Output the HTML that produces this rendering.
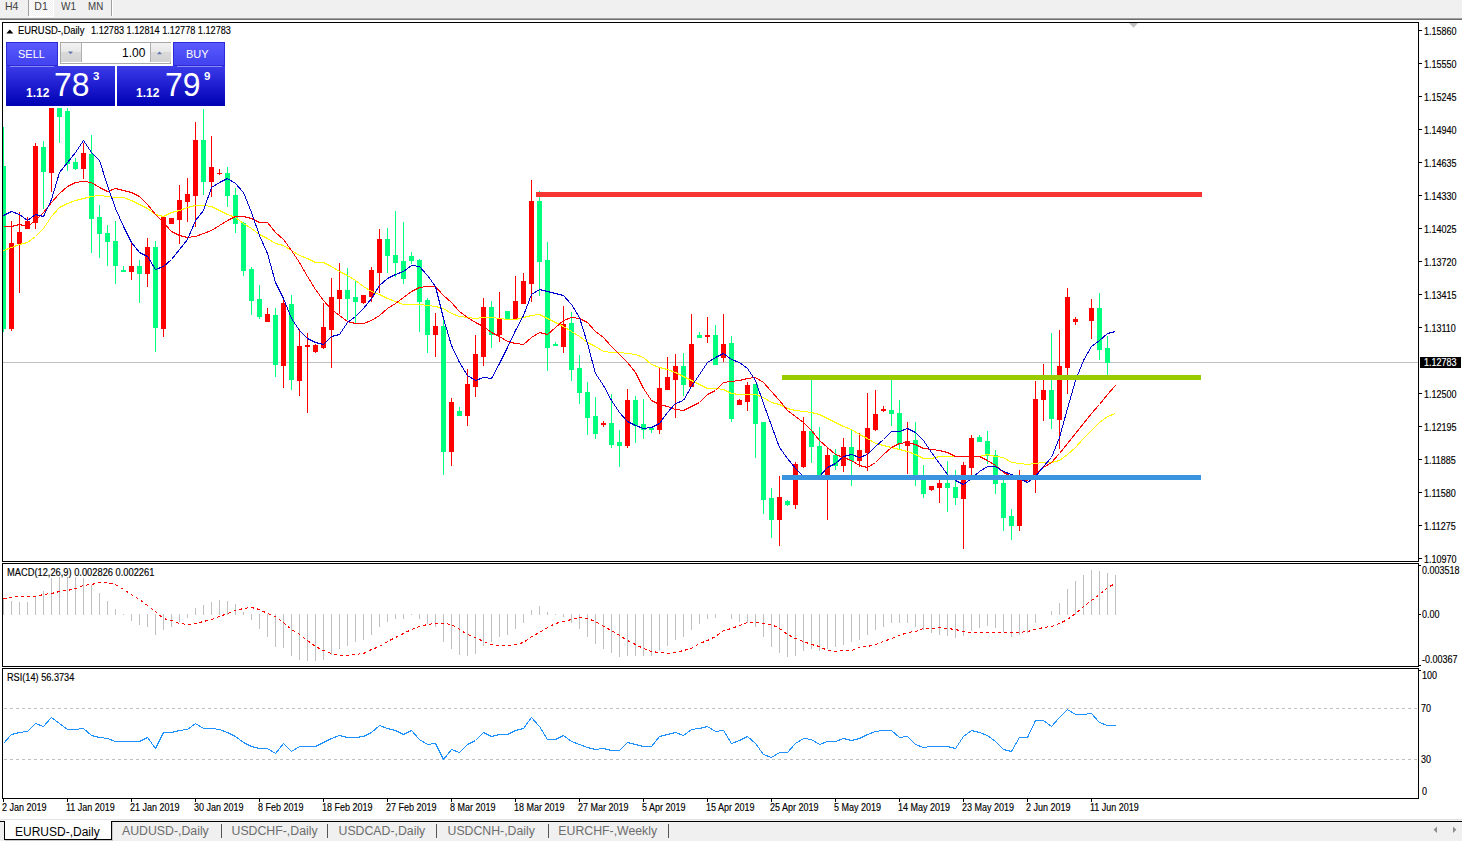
<!DOCTYPE html>
<html><head><meta charset="utf-8"><style>
html,body{margin:0;padding:0;}
body{width:1462px;height:842px;position:relative;overflow:hidden;background:#fff;font-family:"Liberation Sans",sans-serif;}
.t{position:absolute;white-space:pre;line-height:1;font-family:"Liberation Sans",sans-serif;}
.a{position:absolute;}
</style></head><body>
<svg width="1462" height="842" style="position:absolute;left:0;top:0" shape-rendering="crispEdges">
<defs>
<clipPath id="cm"><rect x="3" y="23" width="1415" height="538"/></clipPath>
<clipPath id="cmacd"><rect x="3" y="564" width="1415" height="102"/></clipPath>
<clipPath id="crsi"><rect x="3" y="669" width="1415" height="129"/></clipPath>
</defs>
<g clip-path="url(#cm)"><rect x="3" y="362" width="1415" height="1" fill="#c0c0c0"/><rect x="3" y="127" width="1" height="205" fill="#00ff7f"/><rect x="1" y="166" width="5" height="163" fill="#00ff7f"/><rect x="11" y="221" width="1" height="110" fill="#ff0000"/><rect x="9" y="243" width="5" height="86" fill="#ff0000"/><rect x="19" y="212" width="1" height="81" fill="#ff0000"/><rect x="17" y="232" width="5" height="12" fill="#ff0000"/><rect x="27" y="217" width="1" height="12" fill="#ff0000"/><rect x="25" y="221" width="5" height="8" fill="#ff0000"/><rect x="35" y="143" width="1" height="86" fill="#ff0000"/><rect x="33" y="146" width="5" height="77" fill="#ff0000"/><rect x="43" y="141" width="1" height="68" fill="#00ff7f"/><rect x="41" y="147" width="5" height="25" fill="#00ff7f"/><rect x="51" y="108" width="1" height="84" fill="#ff0000"/><rect x="49" y="108" width="5" height="65" fill="#ff0000"/><rect x="59" y="108" width="1" height="35" fill="#00ff7f"/><rect x="57" y="108" width="5" height="9" fill="#00ff7f"/><rect x="67" y="108" width="1" height="63" fill="#00ff7f"/><rect x="65" y="111" width="5" height="53" fill="#00ff7f"/><rect x="75" y="158" width="1" height="12" fill="#00ff7f"/><rect x="73" y="162" width="5" height="7" fill="#00ff7f"/><rect x="83" y="143" width="1" height="36" fill="#ff0000"/><rect x="81" y="153" width="5" height="16" fill="#ff0000"/><rect x="91" y="135" width="1" height="118" fill="#00ff7f"/><rect x="89" y="154" width="5" height="65" fill="#00ff7f"/><rect x="99" y="205" width="1" height="53" fill="#00ff7f"/><rect x="97" y="217" width="5" height="17" fill="#00ff7f"/><rect x="107" y="225" width="1" height="41" fill="#00ff7f"/><rect x="105" y="233" width="5" height="9" fill="#00ff7f"/><rect x="115" y="221" width="1" height="63" fill="#00ff7f"/><rect x="113" y="241" width="5" height="25" fill="#00ff7f"/><rect x="123" y="266" width="1" height="6" fill="#00ff7f"/><rect x="121" y="270" width="5" height="2" fill="#00ff7f"/><rect x="131" y="242" width="1" height="38" fill="#ff0000"/><rect x="129" y="266" width="5" height="6" fill="#ff0000"/><rect x="139" y="260" width="1" height="43" fill="#00ff7f"/><rect x="137" y="266" width="5" height="8" fill="#00ff7f"/><rect x="147" y="238" width="1" height="49" fill="#ff0000"/><rect x="145" y="247" width="5" height="27" fill="#ff0000"/><rect x="155" y="241" width="1" height="111" fill="#00ff7f"/><rect x="153" y="247" width="5" height="81" fill="#00ff7f"/><rect x="163" y="217" width="1" height="120" fill="#ff0000"/><rect x="161" y="217" width="5" height="112" fill="#ff0000"/><rect x="171" y="218" width="1" height="6" fill="#ff0000"/><rect x="169" y="218" width="5" height="6" fill="#ff0000"/><rect x="179" y="185" width="1" height="59" fill="#ff0000"/><rect x="177" y="200" width="5" height="20" fill="#ff0000"/><rect x="187" y="178" width="1" height="44" fill="#ff0000"/><rect x="185" y="194" width="5" height="8" fill="#ff0000"/><rect x="195" y="122" width="1" height="105" fill="#ff0000"/><rect x="193" y="140" width="5" height="56" fill="#ff0000"/><rect x="203" y="109" width="1" height="86" fill="#00ff7f"/><rect x="201" y="140" width="5" height="42" fill="#00ff7f"/><rect x="211" y="136" width="1" height="61" fill="#ff0000"/><rect x="209" y="167" width="5" height="15" fill="#ff0000"/><rect x="219" y="169" width="1" height="6" fill="#ff0000"/><rect x="217" y="173" width="5" height="1" fill="#ff0000"/><rect x="227" y="167" width="1" height="40" fill="#00ff7f"/><rect x="225" y="173" width="5" height="23" fill="#00ff7f"/><rect x="235" y="188" width="1" height="45" fill="#00ff7f"/><rect x="233" y="195" width="5" height="29" fill="#00ff7f"/><rect x="243" y="222" width="1" height="54" fill="#00ff7f"/><rect x="241" y="223" width="5" height="48" fill="#00ff7f"/><rect x="251" y="267" width="1" height="48" fill="#00ff7f"/><rect x="249" y="269" width="5" height="32" fill="#00ff7f"/><rect x="259" y="285" width="1" height="34" fill="#00ff7f"/><rect x="257" y="299" width="5" height="18" fill="#00ff7f"/><rect x="267" y="308" width="1" height="14" fill="#ff0000"/><rect x="265" y="314" width="5" height="8" fill="#ff0000"/><rect x="275" y="308" width="1" height="69" fill="#00ff7f"/><rect x="273" y="315" width="5" height="50" fill="#00ff7f"/><rect x="283" y="297" width="1" height="91" fill="#ff0000"/><rect x="281" y="303" width="5" height="63" fill="#ff0000"/><rect x="291" y="295" width="1" height="95" fill="#00ff7f"/><rect x="289" y="304" width="5" height="76" fill="#00ff7f"/><rect x="299" y="329" width="1" height="67" fill="#ff0000"/><rect x="297" y="346" width="5" height="35" fill="#ff0000"/><rect x="307" y="333" width="1" height="80" fill="#ff0000"/><rect x="305" y="345" width="5" height="2" fill="#ff0000"/><rect x="315" y="344" width="1" height="9" fill="#ff0000"/><rect x="313" y="345" width="5" height="7" fill="#ff0000"/><rect x="323" y="303" width="1" height="46" fill="#ff0000"/><rect x="321" y="327" width="5" height="21" fill="#ff0000"/><rect x="331" y="278" width="1" height="90" fill="#ff0000"/><rect x="329" y="297" width="5" height="33" fill="#ff0000"/><rect x="339" y="263" width="1" height="51" fill="#ff0000"/><rect x="337" y="290" width="5" height="9" fill="#ff0000"/><rect x="347" y="268" width="1" height="52" fill="#00ff7f"/><rect x="345" y="290" width="5" height="9" fill="#00ff7f"/><rect x="355" y="280" width="1" height="44" fill="#00ff7f"/><rect x="353" y="297" width="5" height="5" fill="#00ff7f"/><rect x="363" y="295" width="1" height="9" fill="#ff0000"/><rect x="361" y="295" width="5" height="8" fill="#ff0000"/><rect x="371" y="267" width="1" height="35" fill="#ff0000"/><rect x="369" y="270" width="5" height="27" fill="#ff0000"/><rect x="379" y="229" width="1" height="64" fill="#ff0000"/><rect x="377" y="239" width="5" height="34" fill="#ff0000"/><rect x="387" y="228" width="1" height="45" fill="#00ff7f"/><rect x="385" y="239" width="5" height="17" fill="#00ff7f"/><rect x="395" y="211" width="1" height="66" fill="#00ff7f"/><rect x="393" y="255" width="5" height="8" fill="#00ff7f"/><rect x="403" y="222" width="1" height="62" fill="#00ff7f"/><rect x="401" y="261" width="5" height="18" fill="#00ff7f"/><rect x="411" y="252" width="1" height="12" fill="#00ff7f"/><rect x="409" y="256" width="5" height="5" fill="#00ff7f"/><rect x="419" y="259" width="1" height="73" fill="#00ff7f"/><rect x="417" y="260" width="5" height="42" fill="#00ff7f"/><rect x="427" y="298" width="1" height="55" fill="#00ff7f"/><rect x="425" y="300" width="5" height="35" fill="#00ff7f"/><rect x="435" y="313" width="1" height="44" fill="#ff0000"/><rect x="433" y="326" width="5" height="9" fill="#ff0000"/><rect x="443" y="318" width="1" height="157" fill="#00ff7f"/><rect x="441" y="326" width="5" height="126" fill="#00ff7f"/><rect x="451" y="398" width="1" height="68" fill="#ff0000"/><rect x="449" y="402" width="5" height="50" fill="#ff0000"/><rect x="459" y="407" width="1" height="9" fill="#00ff7f"/><rect x="457" y="411" width="5" height="5" fill="#00ff7f"/><rect x="467" y="369" width="1" height="57" fill="#ff0000"/><rect x="465" y="384" width="5" height="32" fill="#ff0000"/><rect x="475" y="335" width="1" height="62" fill="#ff0000"/><rect x="473" y="354" width="5" height="33" fill="#ff0000"/><rect x="483" y="298" width="1" height="68" fill="#ff0000"/><rect x="481" y="307" width="5" height="50" fill="#ff0000"/><rect x="491" y="301" width="1" height="47" fill="#00ff7f"/><rect x="489" y="307" width="5" height="28" fill="#00ff7f"/><rect x="499" y="292" width="1" height="50" fill="#ff0000"/><rect x="497" y="318" width="5" height="17" fill="#ff0000"/><rect x="507" y="311" width="1" height="9" fill="#00ff7f"/><rect x="505" y="311" width="5" height="9" fill="#00ff7f"/><rect x="515" y="276" width="1" height="44" fill="#ff0000"/><rect x="513" y="301" width="5" height="19" fill="#ff0000"/><rect x="523" y="273" width="1" height="31" fill="#ff0000"/><rect x="521" y="281" width="5" height="23" fill="#ff0000"/><rect x="531" y="180" width="1" height="122" fill="#ff0000"/><rect x="529" y="201" width="5" height="83" fill="#ff0000"/><rect x="539" y="191" width="1" height="105" fill="#00ff7f"/><rect x="537" y="201" width="5" height="61" fill="#00ff7f"/><rect x="547" y="242" width="1" height="129" fill="#00ff7f"/><rect x="545" y="260" width="5" height="88" fill="#00ff7f"/><rect x="555" y="342" width="1" height="4" fill="#00ff7f"/><rect x="553" y="344" width="5" height="2" fill="#00ff7f"/><rect x="563" y="306" width="1" height="47" fill="#ff0000"/><rect x="561" y="324" width="5" height="23" fill="#ff0000"/><rect x="571" y="312" width="1" height="69" fill="#00ff7f"/><rect x="569" y="323" width="5" height="47" fill="#00ff7f"/><rect x="579" y="355" width="1" height="49" fill="#00ff7f"/><rect x="577" y="368" width="5" height="25" fill="#00ff7f"/><rect x="587" y="382" width="1" height="53" fill="#00ff7f"/><rect x="585" y="392" width="5" height="26" fill="#00ff7f"/><rect x="595" y="397" width="1" height="42" fill="#00ff7f"/><rect x="593" y="416" width="5" height="18" fill="#00ff7f"/><rect x="603" y="421" width="1" height="6" fill="#ff0000"/><rect x="601" y="423" width="5" height="2" fill="#ff0000"/><rect x="611" y="394" width="1" height="54" fill="#00ff7f"/><rect x="609" y="423" width="5" height="22" fill="#00ff7f"/><rect x="619" y="430" width="1" height="37" fill="#00ff7f"/><rect x="617" y="442" width="5" height="4" fill="#00ff7f"/><rect x="627" y="389" width="1" height="59" fill="#ff0000"/><rect x="625" y="400" width="5" height="46" fill="#ff0000"/><rect x="635" y="396" width="1" height="47" fill="#00ff7f"/><rect x="633" y="400" width="5" height="26" fill="#00ff7f"/><rect x="643" y="399" width="1" height="40" fill="#00ff7f"/><rect x="641" y="424" width="5" height="6" fill="#00ff7f"/><rect x="651" y="427" width="1" height="6" fill="#00ff7f"/><rect x="649" y="428" width="5" height="2" fill="#00ff7f"/><rect x="659" y="368" width="1" height="66" fill="#ff0000"/><rect x="657" y="388" width="5" height="42" fill="#ff0000"/><rect x="667" y="357" width="1" height="33" fill="#ff0000"/><rect x="665" y="377" width="5" height="13" fill="#ff0000"/><rect x="675" y="354" width="1" height="64" fill="#ff0000"/><rect x="673" y="366" width="5" height="14" fill="#ff0000"/><rect x="683" y="353" width="1" height="43" fill="#00ff7f"/><rect x="681" y="366" width="5" height="19" fill="#00ff7f"/><rect x="691" y="314" width="1" height="73" fill="#ff0000"/><rect x="689" y="344" width="5" height="43" fill="#ff0000"/><rect x="699" y="332" width="1" height="6" fill="#00ff7f"/><rect x="697" y="335" width="5" height="3" fill="#00ff7f"/><rect x="707" y="317" width="1" height="26" fill="#ff0000"/><rect x="705" y="335" width="5" height="2" fill="#ff0000"/><rect x="715" y="325" width="1" height="40" fill="#00ff7f"/><rect x="713" y="335" width="5" height="30" fill="#00ff7f"/><rect x="723" y="314" width="1" height="48" fill="#ff0000"/><rect x="721" y="344" width="5" height="14" fill="#ff0000"/><rect x="731" y="336" width="1" height="86" fill="#00ff7f"/><rect x="729" y="343" width="5" height="76" fill="#00ff7f"/><rect x="739" y="399" width="1" height="6" fill="#ff0000"/><rect x="737" y="400" width="5" height="5" fill="#ff0000"/><rect x="747" y="382" width="1" height="29" fill="#ff0000"/><rect x="745" y="385" width="5" height="17" fill="#ff0000"/><rect x="755" y="384" width="1" height="74" fill="#00ff7f"/><rect x="753" y="384" width="5" height="40" fill="#00ff7f"/><rect x="763" y="422" width="1" height="92" fill="#00ff7f"/><rect x="761" y="422" width="5" height="78" fill="#00ff7f"/><rect x="771" y="488" width="1" height="50" fill="#00ff7f"/><rect x="769" y="498" width="5" height="22" fill="#00ff7f"/><rect x="779" y="476" width="1" height="70" fill="#ff0000"/><rect x="777" y="497" width="5" height="23" fill="#ff0000"/><rect x="787" y="500" width="1" height="6" fill="#00ff7f"/><rect x="785" y="501" width="5" height="4" fill="#00ff7f"/><rect x="795" y="462" width="1" height="47" fill="#ff0000"/><rect x="793" y="464" width="5" height="41" fill="#ff0000"/><rect x="803" y="417" width="1" height="51" fill="#ff0000"/><rect x="801" y="431" width="5" height="36" fill="#ff0000"/><rect x="811" y="380" width="1" height="83" fill="#00ff7f"/><rect x="809" y="431" width="5" height="16" fill="#00ff7f"/><rect x="819" y="427" width="1" height="51" fill="#00ff7f"/><rect x="817" y="446" width="5" height="32" fill="#00ff7f"/><rect x="827" y="448" width="1" height="72" fill="#ff0000"/><rect x="825" y="455" width="5" height="23" fill="#ff0000"/><rect x="835" y="449" width="1" height="21" fill="#00ff7f"/><rect x="833" y="455" width="5" height="11" fill="#00ff7f"/><rect x="843" y="438" width="1" height="34" fill="#ff0000"/><rect x="841" y="447" width="5" height="19" fill="#ff0000"/><rect x="851" y="429" width="1" height="57" fill="#00ff7f"/><rect x="849" y="447" width="5" height="14" fill="#00ff7f"/><rect x="859" y="433" width="1" height="34" fill="#ff0000"/><rect x="857" y="450" width="5" height="11" fill="#ff0000"/><rect x="867" y="393" width="1" height="78" fill="#ff0000"/><rect x="865" y="428" width="5" height="25" fill="#ff0000"/><rect x="875" y="390" width="1" height="41" fill="#ff0000"/><rect x="873" y="414" width="5" height="16" fill="#ff0000"/><rect x="883" y="406" width="1" height="6" fill="#ff0000"/><rect x="881" y="409" width="5" height="2" fill="#ff0000"/><rect x="891" y="378" width="1" height="48" fill="#00ff7f"/><rect x="889" y="410" width="5" height="4" fill="#00ff7f"/><rect x="899" y="400" width="1" height="49" fill="#00ff7f"/><rect x="897" y="413" width="5" height="31" fill="#00ff7f"/><rect x="907" y="422" width="1" height="52" fill="#ff0000"/><rect x="905" y="441" width="5" height="5" fill="#ff0000"/><rect x="915" y="422" width="1" height="64" fill="#00ff7f"/><rect x="913" y="440" width="5" height="38" fill="#00ff7f"/><rect x="923" y="465" width="1" height="33" fill="#00ff7f"/><rect x="921" y="477" width="5" height="17" fill="#00ff7f"/><rect x="931" y="486" width="1" height="5" fill="#ff0000"/><rect x="929" y="486" width="5" height="4" fill="#ff0000"/><rect x="939" y="480" width="1" height="23" fill="#ff0000"/><rect x="937" y="483" width="5" height="5" fill="#ff0000"/><rect x="947" y="461" width="1" height="51" fill="#00ff7f"/><rect x="945" y="483" width="5" height="5" fill="#00ff7f"/><rect x="955" y="470" width="1" height="35" fill="#00ff7f"/><rect x="953" y="487" width="5" height="11" fill="#00ff7f"/><rect x="963" y="462" width="1" height="87" fill="#ff0000"/><rect x="961" y="465" width="5" height="34" fill="#ff0000"/><rect x="971" y="435" width="1" height="40" fill="#ff0000"/><rect x="969" y="438" width="5" height="30" fill="#ff0000"/><rect x="979" y="435" width="1" height="7" fill="#00ff7f"/><rect x="977" y="437" width="5" height="5" fill="#00ff7f"/><rect x="987" y="431" width="1" height="33" fill="#00ff7f"/><rect x="985" y="441" width="5" height="15" fill="#00ff7f"/><rect x="995" y="450" width="1" height="44" fill="#00ff7f"/><rect x="993" y="455" width="5" height="29" fill="#00ff7f"/><rect x="1003" y="480" width="1" height="51" fill="#00ff7f"/><rect x="1001" y="483" width="5" height="35" fill="#00ff7f"/><rect x="1011" y="509" width="1" height="31" fill="#00ff7f"/><rect x="1009" y="516" width="5" height="10" fill="#00ff7f"/><rect x="1019" y="470" width="1" height="61" fill="#ff0000"/><rect x="1017" y="478" width="5" height="48" fill="#ff0000"/><rect x="1035" y="381" width="1" height="112" fill="#ff0000"/><rect x="1033" y="399" width="5" height="81" fill="#ff0000"/><rect x="1043" y="364" width="1" height="57" fill="#ff0000"/><rect x="1041" y="390" width="5" height="10" fill="#ff0000"/><rect x="1051" y="333" width="1" height="96" fill="#00ff7f"/><rect x="1049" y="390" width="5" height="29" fill="#00ff7f"/><rect x="1059" y="330" width="1" height="119" fill="#ff0000"/><rect x="1057" y="366" width="5" height="54" fill="#ff0000"/><rect x="1067" y="288" width="1" height="106" fill="#ff0000"/><rect x="1065" y="297" width="5" height="71" fill="#ff0000"/><rect x="1075" y="317" width="1" height="8" fill="#ff0000"/><rect x="1073" y="319" width="5" height="3" fill="#ff0000"/><rect x="1091" y="299" width="1" height="40" fill="#ff0000"/><rect x="1089" y="308" width="5" height="13" fill="#ff0000"/><rect x="1099" y="293" width="1" height="67" fill="#00ff7f"/><rect x="1097" y="308" width="5" height="42" fill="#00ff7f"/><rect x="1107" y="336" width="1" height="41" fill="#00ff7f"/><rect x="1105" y="348" width="5" height="15" fill="#00ff7f"/><polyline points="3.5,250.5 11.5,247.5 19.5,244.5 27.5,242.5 35.5,236.5 43.5,228.5 51.5,216.5 59.5,207.5 67.5,203.5 75.5,200.5 83.5,198.5 91.5,196.5 99.5,195.5 107.5,196.5 115.5,197.5 123.5,197.5 131.5,200.5 139.5,204.5 147.5,208.5 155.5,214.5 163.5,216.5 171.5,212.5 179.5,210.5 187.5,207.5 195.5,205.5 203.5,205.5 211.5,206.5 219.5,210.5 227.5,214.5 235.5,217.5 243.5,223.5 251.5,228.5 259.5,234.5 267.5,238.5 275.5,243.5 283.5,245.5 291.5,250.5 299.5,255.5 307.5,258.5 315.5,262.5 323.5,262.5 331.5,266.5 339.5,271.5 347.5,275.5 355.5,280.5 363.5,286.5 371.5,291.5 379.5,294.5 387.5,298.5 395.5,301.5 403.5,304.5 411.5,304.5 419.5,304.5 427.5,305.5 435.5,306.5 443.5,308.5 451.5,313.5 459.5,316.5 467.5,317.5 475.5,318.5 483.5,317.5 491.5,317.5 499.5,318.5 507.5,319.5 515.5,319.5 523.5,317.5 531.5,315.5 539.5,314.5 547.5,318.5 555.5,322.5 563.5,326.5 571.5,331.5 579.5,336.5 587.5,342.5 595.5,346.5 603.5,351.5 611.5,352.5 619.5,352.5 627.5,353.5 635.5,354.5 643.5,357.5 651.5,364.5 659.5,367.5 667.5,369.5 675.5,372.5 683.5,376.5 691.5,380.5 699.5,384.5 707.5,388.5 715.5,388.5 723.5,389.5 731.5,393.5 739.5,394.5 747.5,394.5 755.5,394.5 763.5,397.5 771.5,402.5 779.5,404.5 787.5,408.5 795.5,410.5 803.5,411.5 811.5,412.5 819.5,414.5 827.5,418.5 835.5,422.5 843.5,426.5 851.5,429.5 859.5,434.5 867.5,438.5 875.5,443.5 883.5,445.5 891.5,447.5 899.5,449.5 907.5,451.5 915.5,454.5 923.5,458.5 931.5,458.5 939.5,456.5 947.5,456.5 955.5,456.5 963.5,456.5 971.5,456.5 979.5,456.5 987.5,454.5 995.5,456.5 1003.5,457.5 1011.5,462.5 1019.5,463.5 1027.5,464.5 1035.5,463.5 1043.5,462.5 1051.5,462.5 1059.5,460.5 1067.5,454.5 1075.5,447.5 1083.5,438.5 1091.5,430.5 1099.5,422.5 1107.5,416.5 1115.5,413.5" fill="none" stroke="#ffff00" stroke-width="1"/><polyline points="3.5,226.5 11.5,226.5 19.5,224.5 27.5,226.5 35.5,220.5 43.5,212.5 51.5,202.5 59.5,193.5 67.5,186.5 75.5,182.5 83.5,181.5 91.5,182.5 99.5,187.5 107.5,191.5 115.5,188.5 123.5,190.5 131.5,192.5 139.5,196.5 147.5,204.5 155.5,214.5 163.5,222.5 171.5,231.5 179.5,235.5 187.5,237.5 195.5,236.5 203.5,233.5 211.5,230.5 219.5,225.5 227.5,220.5 235.5,216.5 243.5,216.5 251.5,218.5 259.5,222.5 267.5,222.5 275.5,232.5 283.5,239.5 291.5,250.5 299.5,262.5 307.5,276.5 315.5,289.5 323.5,300.5 331.5,309.5 339.5,315.5 347.5,321.5 355.5,323.5 363.5,323.5 371.5,320.5 379.5,315.5 387.5,308.5 395.5,303.5 403.5,297.5 411.5,291.5 419.5,287.5 427.5,286.5 435.5,286.5 443.5,295.5 451.5,302.5 459.5,311.5 467.5,317.5 475.5,322.5 483.5,326.5 491.5,332.5 499.5,336.5 507.5,341.5 515.5,343.5 523.5,344.5 531.5,337.5 539.5,332.5 547.5,334.5 555.5,327.5 563.5,320.5 571.5,317.5 579.5,318.5 587.5,322.5 595.5,331.5 603.5,337.5 611.5,346.5 619.5,354.5 627.5,362.5 635.5,372.5 643.5,388.5 651.5,400.5 659.5,404.5 667.5,406.5 675.5,409.5 683.5,410.5 691.5,406.5 699.5,402.5 707.5,394.5 715.5,390.5 723.5,382.5 731.5,381.5 739.5,380.5 747.5,378.5 755.5,377.5 763.5,382.5 771.5,391.5 779.5,400.5 787.5,410.5 795.5,416.5 803.5,422.5 811.5,430.5 819.5,440.5 827.5,447.5 835.5,454.5 843.5,457.5 851.5,460.5 859.5,465.5 867.5,467.5 875.5,462.5 883.5,454.5 891.5,447.5 899.5,443.5 907.5,442.5 915.5,444.5 923.5,448.5 931.5,449.5 939.5,450.5 947.5,452.5 955.5,456.5 963.5,456.5 971.5,456.5 979.5,456.5 987.5,460.5 995.5,465.5 1003.5,472.5 1011.5,476.5 1019.5,478.5 1027.5,480.5 1035.5,473.5 1043.5,467.5 1051.5,462.5 1059.5,453.5 1067.5,443.5 1075.5,433.5 1083.5,423.5 1091.5,413.5 1099.5,404.5 1107.5,394.5 1115.5,385.5" fill="none" stroke="#ff0000" stroke-width="1"/><polyline points="3.5,215.5 11.5,211.5 19.5,214.5 27.5,220.5 35.5,214.5 43.5,216.5 51.5,199.5 59.5,172.5 67.5,162.5 75.5,152.5 83.5,140.5 91.5,152.5 99.5,160.5 107.5,185.5 115.5,208.5 123.5,226.5 131.5,242.5 139.5,252.5 147.5,256.5 155.5,269.5 163.5,266.5 171.5,259.5 179.5,249.5 187.5,239.5 195.5,220.5 203.5,210.5 211.5,187.5 219.5,182.5 227.5,178.5 235.5,183.5 243.5,192.5 251.5,212.5 259.5,235.5 267.5,253.5 275.5,282.5 283.5,298.5 291.5,318.5 299.5,330.5 307.5,338.5 315.5,342.5 323.5,344.5 331.5,336.5 339.5,334.5 347.5,322.5 355.5,316.5 363.5,308.5 371.5,298.5 379.5,285.5 387.5,278.5 395.5,274.5 403.5,271.5 411.5,265.5 419.5,266.5 427.5,275.5 435.5,286.5 443.5,318.5 451.5,345.5 459.5,362.5 467.5,375.5 475.5,380.5 483.5,377.5 491.5,378.5 499.5,363.5 507.5,347.5 515.5,330.5 523.5,315.5 531.5,294.5 539.5,289.5 547.5,291.5 555.5,293.5 563.5,295.5 571.5,304.5 579.5,317.5 587.5,343.5 595.5,373.5 603.5,385.5 611.5,400.5 619.5,412.5 627.5,421.5 635.5,425.5 643.5,428.5 651.5,427.5 659.5,423.5 667.5,412.5 675.5,403.5 683.5,400.5 691.5,386.5 699.5,374.5 707.5,362.5 715.5,357.5 723.5,353.5 731.5,359.5 739.5,362.5 747.5,368.5 755.5,380.5 763.5,403.5 771.5,425.5 779.5,447.5 787.5,458.5 795.5,468.5 803.5,476.5 811.5,476.5 819.5,476.5 827.5,467.5 835.5,463.5 843.5,456.5 851.5,454.5 859.5,457.5 867.5,454.5 875.5,446.5 883.5,439.5 891.5,431.5 899.5,431.5 907.5,428.5 915.5,432.5 923.5,440.5 931.5,452.5 939.5,463.5 947.5,474.5 955.5,480.5 963.5,484.5 971.5,478.5 979.5,471.5 987.5,466.5 995.5,466.5 1003.5,471.5 1011.5,474.5 1019.5,478.5 1027.5,482.5 1035.5,476.5 1043.5,466.5 1051.5,457.5 1059.5,437.5 1067.5,408.5 1075.5,380.5 1083.5,360.5 1091.5,346.5 1099.5,340.5 1107.5,333.5 1115.5,331.5" fill="none" stroke="#0000cd" stroke-width="1"/><rect x="536" y="192" width="666" height="5" fill="#f83535"/><rect x="782" y="375" width="419" height="5" fill="#99cc00"/><rect x="782" y="475" width="419" height="5" fill="#3a94e0"/></g>
<g clip-path="url(#cmacd)"><rect x="3" y="598" width="1" height="17" fill="#c0c0c0"/><rect x="11" y="601" width="1" height="14" fill="#c0c0c0"/><rect x="19" y="602" width="1" height="13" fill="#c0c0c0"/><rect x="27" y="602" width="1" height="13" fill="#c0c0c0"/><rect x="35" y="596" width="1" height="19" fill="#c0c0c0"/><rect x="43" y="591" width="1" height="24" fill="#c0c0c0"/><rect x="51" y="578" width="1" height="37" fill="#c0c0c0"/><rect x="59" y="577" width="1" height="38" fill="#c0c0c0"/><rect x="67" y="577" width="1" height="38" fill="#c0c0c0"/><rect x="75" y="577" width="1" height="38" fill="#c0c0c0"/><rect x="83" y="578" width="1" height="37" fill="#c0c0c0"/><rect x="91" y="585" width="1" height="30" fill="#c0c0c0"/><rect x="99" y="593" width="1" height="22" fill="#c0c0c0"/><rect x="107" y="601" width="1" height="14" fill="#c0c0c0"/><rect x="115" y="609" width="1" height="6" fill="#c0c0c0"/><rect x="123" y="614" width="1" height="1" fill="#c0c0c0"/><rect x="131" y="614" width="1" height="7" fill="#c0c0c0"/><rect x="139" y="614" width="1" height="11" fill="#c0c0c0"/><rect x="147" y="614" width="1" height="13" fill="#c0c0c0"/><rect x="155" y="614" width="1" height="21" fill="#c0c0c0"/><rect x="163" y="614" width="1" height="16" fill="#c0c0c0"/><rect x="171" y="614" width="1" height="13" fill="#c0c0c0"/><rect x="179" y="614" width="1" height="8" fill="#c0c0c0"/><rect x="187" y="614" width="1" height="4" fill="#c0c0c0"/><rect x="195" y="608" width="1" height="7" fill="#c0c0c0"/><rect x="203" y="605" width="1" height="10" fill="#c0c0c0"/><rect x="211" y="602" width="1" height="13" fill="#c0c0c0"/><rect x="219" y="600" width="1" height="15" fill="#c0c0c0"/><rect x="227" y="601" width="1" height="14" fill="#c0c0c0"/><rect x="235" y="604" width="1" height="11" fill="#c0c0c0"/><rect x="243" y="612" width="1" height="3" fill="#c0c0c0"/><rect x="251" y="614" width="1" height="6" fill="#c0c0c0"/><rect x="259" y="614" width="1" height="15" fill="#c0c0c0"/><rect x="267" y="614" width="1" height="23" fill="#c0c0c0"/><rect x="275" y="614" width="1" height="33" fill="#c0c0c0"/><rect x="283" y="614" width="1" height="34" fill="#c0c0c0"/><rect x="291" y="614" width="1" height="42" fill="#c0c0c0"/><rect x="299" y="614" width="1" height="46" fill="#c0c0c0"/><rect x="307" y="614" width="1" height="47" fill="#c0c0c0"/><rect x="315" y="614" width="1" height="47" fill="#c0c0c0"/><rect x="323" y="614" width="1" height="46" fill="#c0c0c0"/><rect x="331" y="614" width="1" height="41" fill="#c0c0c0"/><rect x="339" y="614" width="1" height="35" fill="#c0c0c0"/><rect x="347" y="614" width="1" height="32" fill="#c0c0c0"/><rect x="355" y="614" width="1" height="28" fill="#c0c0c0"/><rect x="363" y="614" width="1" height="26" fill="#c0c0c0"/><rect x="371" y="614" width="1" height="21" fill="#c0c0c0"/><rect x="379" y="614" width="1" height="13" fill="#c0c0c0"/><rect x="387" y="614" width="1" height="8" fill="#c0c0c0"/><rect x="395" y="614" width="1" height="5" fill="#c0c0c0"/><rect x="403" y="614" width="1" height="5" fill="#c0c0c0"/><rect x="411" y="614" width="1" height="1" fill="#c0c0c0"/><rect x="419" y="614" width="1" height="5" fill="#c0c0c0"/><rect x="427" y="614" width="1" height="10" fill="#c0c0c0"/><rect x="435" y="614" width="1" height="13" fill="#c0c0c0"/><rect x="443" y="614" width="1" height="28" fill="#c0c0c0"/><rect x="451" y="614" width="1" height="35" fill="#c0c0c0"/><rect x="459" y="614" width="1" height="41" fill="#c0c0c0"/><rect x="467" y="614" width="1" height="42" fill="#c0c0c0"/><rect x="475" y="614" width="1" height="40" fill="#c0c0c0"/><rect x="483" y="614" width="1" height="32" fill="#c0c0c0"/><rect x="491" y="614" width="1" height="28" fill="#c0c0c0"/><rect x="499" y="614" width="1" height="23" fill="#c0c0c0"/><rect x="507" y="614" width="1" height="21" fill="#c0c0c0"/><rect x="515" y="614" width="1" height="15" fill="#c0c0c0"/><rect x="523" y="614" width="1" height="9" fill="#c0c0c0"/><rect x="531" y="610" width="1" height="5" fill="#c0c0c0"/><rect x="539" y="606" width="1" height="9" fill="#c0c0c0"/><rect x="547" y="612" width="1" height="3" fill="#c0c0c0"/><rect x="555" y="614" width="1" height="1" fill="#c0c0c0"/><rect x="563" y="614" width="1" height="3" fill="#c0c0c0"/><rect x="571" y="614" width="1" height="9" fill="#c0c0c0"/><rect x="579" y="614" width="1" height="15" fill="#c0c0c0"/><rect x="587" y="614" width="1" height="23" fill="#c0c0c0"/><rect x="595" y="614" width="1" height="30" fill="#c0c0c0"/><rect x="603" y="614" width="1" height="35" fill="#c0c0c0"/><rect x="611" y="614" width="1" height="39" fill="#c0c0c0"/><rect x="619" y="614" width="1" height="43" fill="#c0c0c0"/><rect x="627" y="614" width="1" height="42" fill="#c0c0c0"/><rect x="635" y="614" width="1" height="42" fill="#c0c0c0"/><rect x="643" y="614" width="1" height="42" fill="#c0c0c0"/><rect x="651" y="614" width="1" height="42" fill="#c0c0c0"/><rect x="659" y="614" width="1" height="37" fill="#c0c0c0"/><rect x="667" y="614" width="1" height="32" fill="#c0c0c0"/><rect x="675" y="614" width="1" height="26" fill="#c0c0c0"/><rect x="683" y="614" width="1" height="23" fill="#c0c0c0"/><rect x="691" y="614" width="1" height="16" fill="#c0c0c0"/><rect x="699" y="614" width="1" height="10" fill="#c0c0c0"/><rect x="707" y="614" width="1" height="5" fill="#c0c0c0"/><rect x="715" y="614" width="1" height="4" fill="#c0c0c0"/><rect x="731" y="614" width="1" height="5" fill="#c0c0c0"/><rect x="739" y="614" width="1" height="8" fill="#c0c0c0"/><rect x="747" y="614" width="1" height="9" fill="#c0c0c0"/><rect x="755" y="614" width="1" height="13" fill="#c0c0c0"/><rect x="763" y="614" width="1" height="23" fill="#c0c0c0"/><rect x="771" y="614" width="1" height="33" fill="#c0c0c0"/><rect x="779" y="614" width="1" height="39" fill="#c0c0c0"/><rect x="787" y="614" width="1" height="43" fill="#c0c0c0"/><rect x="795" y="614" width="1" height="42" fill="#c0c0c0"/><rect x="803" y="614" width="1" height="37" fill="#c0c0c0"/><rect x="811" y="614" width="1" height="35" fill="#c0c0c0"/><rect x="819" y="614" width="1" height="37" fill="#c0c0c0"/><rect x="827" y="614" width="1" height="35" fill="#c0c0c0"/><rect x="835" y="614" width="1" height="33" fill="#c0c0c0"/><rect x="843" y="614" width="1" height="31" fill="#c0c0c0"/><rect x="851" y="614" width="1" height="28" fill="#c0c0c0"/><rect x="859" y="614" width="1" height="26" fill="#c0c0c0"/><rect x="867" y="614" width="1" height="21" fill="#c0c0c0"/><rect x="875" y="614" width="1" height="16" fill="#c0c0c0"/><rect x="883" y="614" width="1" height="13" fill="#c0c0c0"/><rect x="891" y="614" width="1" height="9" fill="#c0c0c0"/><rect x="899" y="614" width="1" height="9" fill="#c0c0c0"/><rect x="907" y="614" width="1" height="9" fill="#c0c0c0"/><rect x="915" y="614" width="1" height="13" fill="#c0c0c0"/><rect x="923" y="614" width="1" height="16" fill="#c0c0c0"/><rect x="931" y="614" width="1" height="19" fill="#c0c0c0"/><rect x="939" y="614" width="1" height="21" fill="#c0c0c0"/><rect x="947" y="614" width="1" height="22" fill="#c0c0c0"/><rect x="955" y="614" width="1" height="24" fill="#c0c0c0"/><rect x="963" y="614" width="1" height="22" fill="#c0c0c0"/><rect x="971" y="614" width="1" height="17" fill="#c0c0c0"/><rect x="979" y="614" width="1" height="14" fill="#c0c0c0"/><rect x="987" y="614" width="1" height="12" fill="#c0c0c0"/><rect x="995" y="614" width="1" height="14" fill="#c0c0c0"/><rect x="1003" y="614" width="1" height="18" fill="#c0c0c0"/><rect x="1011" y="614" width="1" height="23" fill="#c0c0c0"/><rect x="1019" y="614" width="1" height="21" fill="#c0c0c0"/><rect x="1027" y="614" width="1" height="19" fill="#c0c0c0"/><rect x="1035" y="614" width="1" height="9" fill="#c0c0c0"/><rect x="1051" y="611" width="1" height="4" fill="#c0c0c0"/><rect x="1059" y="603" width="1" height="12" fill="#c0c0c0"/><rect x="1067" y="589" width="1" height="26" fill="#c0c0c0"/><rect x="1075" y="581" width="1" height="34" fill="#c0c0c0"/><rect x="1083" y="575" width="1" height="40" fill="#c0c0c0"/><rect x="1091" y="570" width="1" height="45" fill="#c0c0c0"/><rect x="1099" y="571" width="1" height="44" fill="#c0c0c0"/><rect x="1107" y="573" width="1" height="42" fill="#c0c0c0"/><rect x="1115" y="575" width="1" height="40" fill="#c0c0c0"/><polyline points="3.5,598.5 11.5,597.5 19.5,596.5 27.5,596.5 35.5,596.5 43.5,594.5 51.5,593.5 59.5,591.5 67.5,590.5 75.5,588.5 83.5,585.5 91.5,584.5 99.5,582.5 107.5,582.5 115.5,584.5 123.5,589.5 131.5,594.5 139.5,599.5 147.5,605.5 155.5,611.5 163.5,618.5 171.5,620.5 179.5,623.5 187.5,624.5 195.5,623.5 203.5,621.5 211.5,619.5 219.5,616.5 227.5,613.5 235.5,610.5 243.5,608.5 251.5,607.5 259.5,609.5 267.5,613.5 275.5,616.5 283.5,622.5 291.5,629.5 299.5,634.5 307.5,640.5 315.5,646.5 323.5,650.5 331.5,653.5 339.5,655.5 347.5,655.5 355.5,654.5 363.5,653.5 371.5,649.5 379.5,646.5 387.5,641.5 395.5,637.5 403.5,633.5 411.5,629.5 419.5,626.5 427.5,624.5 435.5,623.5 443.5,623.5 451.5,624.5 459.5,629.5 467.5,634.5 475.5,637.5 483.5,641.5 491.5,644.5 499.5,645.5 507.5,645.5 515.5,644.5 523.5,642.5 531.5,636.5 539.5,632.5 547.5,627.5 555.5,623.5 563.5,621.5 571.5,619.5 579.5,617.5 587.5,618.5 595.5,621.5 603.5,626.5 611.5,630.5 619.5,635.5 627.5,640.5 635.5,644.5 643.5,648.5 651.5,651.5 659.5,652.5 667.5,653.5 675.5,652.5 683.5,650.5 691.5,648.5 699.5,643.5 707.5,640.5 715.5,636.5 723.5,630.5 731.5,628.5 739.5,625.5 747.5,622.5 755.5,622.5 763.5,623.5 771.5,624.5 779.5,628.5 787.5,634.5 795.5,638.5 803.5,641.5 811.5,644.5 819.5,646.5 827.5,650.5 835.5,651.5 843.5,650.5 851.5,650.5 859.5,647.5 867.5,646.5 875.5,644.5 883.5,641.5 891.5,638.5 899.5,635.5 907.5,632.5 915.5,631.5 923.5,628.5 931.5,628.5 939.5,627.5 947.5,628.5 955.5,629.5 963.5,631.5 971.5,632.5 979.5,632.5 987.5,632.5 995.5,632.5 1003.5,632.5 1011.5,632.5 1019.5,632.5 1027.5,631.5 1035.5,629.5 1043.5,627.5 1051.5,626.5 1059.5,623.5 1067.5,619.5 1075.5,613.5 1083.5,606.5 1091.5,600.5 1099.5,594.5 1107.5,587.5 1115.5,583.5" fill="none" stroke="#ff0000" stroke-width="1" stroke-dasharray="3 3"/></g>
<g clip-path="url(#crsi)"><line x1="4" y1="708.5" x2="1418" y2="708.5" stroke="#c0c0c0" stroke-dasharray="3 3"/><line x1="4" y1="759.5" x2="1418" y2="759.5" stroke="#c0c0c0" stroke-dasharray="3 3"/><polyline points="3.5,743.5 11.5,734.5 19.5,732.5 27.5,731.5 35.5,723.5 43.5,726.5 51.5,717.5 59.5,723.5 67.5,729.5 75.5,729.5 83.5,728.5 91.5,735.5 99.5,737.5 107.5,738.5 115.5,741.5 123.5,741.5 131.5,741.5 139.5,741.5 147.5,737.5 155.5,748.5 163.5,732.5 171.5,732.5 179.5,730.5 187.5,729.5 195.5,723.5 203.5,728.5 211.5,728.5 219.5,729.5 227.5,732.5 235.5,736.5 243.5,742.5 251.5,746.5 259.5,748.5 267.5,748.5 275.5,753.5 283.5,743.5 291.5,751.5 299.5,746.5 307.5,746.5 315.5,746.5 323.5,742.5 331.5,738.5 339.5,735.5 347.5,737.5 355.5,737.5 363.5,736.5 371.5,732.5 379.5,725.5 387.5,728.5 395.5,730.5 403.5,734.5 411.5,730.5 419.5,739.5 427.5,744.5 435.5,743.5 443.5,759.5 451.5,749.5 459.5,752.5 467.5,744.5 475.5,740.5 483.5,732.5 491.5,736.5 499.5,734.5 507.5,734.5 515.5,730.5 523.5,728.5 531.5,717.5 539.5,726.5 547.5,739.5 555.5,739.5 563.5,735.5 571.5,741.5 579.5,744.5 587.5,747.5 595.5,749.5 603.5,748.5 611.5,750.5 619.5,750.5 627.5,742.5 635.5,744.5 643.5,746.5 651.5,746.5 659.5,736.5 667.5,734.5 675.5,732.5 683.5,735.5 691.5,729.5 699.5,728.5 707.5,726.5 715.5,731.5 723.5,730.5 731.5,743.5 739.5,740.5 747.5,736.5 755.5,743.5 763.5,754.5 771.5,757.5 779.5,752.5 787.5,752.5 795.5,743.5 803.5,738.5 811.5,739.5 819.5,744.5 827.5,741.5 835.5,741.5 843.5,738.5 851.5,740.5 859.5,738.5 867.5,734.5 875.5,731.5 883.5,730.5 891.5,730.5 899.5,737.5 907.5,736.5 915.5,744.5 923.5,747.5 931.5,746.5 939.5,746.5 947.5,746.5 955.5,748.5 963.5,736.5 971.5,730.5 979.5,732.5 987.5,735.5 995.5,741.5 1003.5,749.5 1011.5,751.5 1019.5,737.5 1027.5,737.5 1035.5,720.5 1043.5,720.5 1051.5,726.5 1059.5,717.5 1067.5,709.5 1075.5,714.5 1083.5,714.5 1091.5,713.5 1099.5,722.5 1107.5,725.5 1115.5,725.5" fill="none" stroke="#1e90ff" stroke-width="1"/></g>
<rect x="2" y="22" width="1417" height="1" fill="#000"/><rect x="2" y="561" width="1417" height="1" fill="#000"/><rect x="2" y="22" width="1" height="540" fill="#000"/><rect x="1418" y="22" width="1" height="540" fill="#000"/><rect x="2" y="563" width="1417" height="1" fill="#000"/><rect x="2" y="666" width="1417" height="1" fill="#000"/><rect x="2" y="563" width="1" height="104" fill="#000"/><rect x="1418" y="563" width="1" height="104" fill="#000"/><rect x="2" y="668" width="1417" height="1" fill="#000"/><rect x="2" y="798" width="1417" height="1" fill="#000"/><rect x="2" y="668" width="1" height="131" fill="#000"/><rect x="1418" y="668" width="1" height="131" fill="#000"/><rect x="1419" y="30" width="3" height="1" fill="#000"/><rect x="1419" y="63" width="3" height="1" fill="#000"/><rect x="1419" y="96" width="3" height="1" fill="#000"/><rect x="1419" y="129" width="3" height="1" fill="#000"/><rect x="1419" y="162" width="3" height="1" fill="#000"/><rect x="1419" y="195" width="3" height="1" fill="#000"/><rect x="1419" y="228" width="3" height="1" fill="#000"/><rect x="1419" y="261" width="3" height="1" fill="#000"/><rect x="1419" y="294" width="3" height="1" fill="#000"/><rect x="1419" y="327" width="3" height="1" fill="#000"/><rect x="1419" y="393" width="3" height="1" fill="#000"/><rect x="1419" y="426" width="3" height="1" fill="#000"/><rect x="1419" y="459" width="3" height="1" fill="#000"/><rect x="1419" y="492" width="3" height="1" fill="#000"/><rect x="1419" y="525" width="3" height="1" fill="#000"/><rect x="1419" y="558" width="3" height="1" fill="#000"/><rect x="1419" y="565" width="2" height="1" fill="#000"/><rect x="1419" y="614" width="2" height="1" fill="#000"/><rect x="1419" y="665" width="2" height="1" fill="#000"/><rect x="1419" y="670" width="2" height="1" fill="#000"/><rect x="3" y="799" width="1" height="3" fill="#000"/><rect x="67" y="799" width="1" height="3" fill="#000"/><rect x="131" y="799" width="1" height="3" fill="#000"/><rect x="195" y="799" width="1" height="3" fill="#000"/><rect x="259" y="799" width="1" height="3" fill="#000"/><rect x="323" y="799" width="1" height="3" fill="#000"/><rect x="387" y="799" width="1" height="3" fill="#000"/><rect x="451" y="799" width="1" height="3" fill="#000"/><rect x="515" y="799" width="1" height="3" fill="#000"/><rect x="579" y="799" width="1" height="3" fill="#000"/><rect x="643" y="799" width="1" height="3" fill="#000"/><rect x="707" y="799" width="1" height="3" fill="#000"/><rect x="771" y="799" width="1" height="3" fill="#000"/><rect x="835" y="799" width="1" height="3" fill="#000"/><rect x="899" y="799" width="1" height="3" fill="#000"/><rect x="963" y="799" width="1" height="3" fill="#000"/><rect x="1027" y="799" width="1" height="3" fill="#000"/><rect x="1091" y="799" width="1" height="3" fill="#000"/><polygon points="1129,23 1138,23 1133.5,27.8" fill="#c0c0c0" shape-rendering="auto"/>
</svg>
<div class="a" style="left:0;top:0;width:1462px;height:18px;background:#f0f0f0"></div><div class="a" style="left:0;top:18px;width:1462px;height:1px;background:#a0a0a0"></div><div class="a" style="left:0;top:19px;width:1462px;height:1px;background:#6e6e6e"></div><div class="a" style="left:29px;top:0;width:24px;height:16px;background-color:#fff;background-image:linear-gradient(45deg,#f0f0f0 25%,transparent 25%,transparent 75%,#f0f0f0 75%),linear-gradient(45deg,#f0f0f0 25%,transparent 25%,transparent 75%,#f0f0f0 75%);background-size:2px 2px;background-position:0 0,1px 1px"></div><div class="a" style="left:29px;top:16px;width:25px;height:1px;background:#fff"></div><div class="a" style="left:53px;top:0;width:1px;height:17px;background:#fff"></div><div class="a" style="left:28px;top:0;width:1px;height:16px;background:#a0a0a0"></div><div class="a" style="left:111px;top:0;width:1px;height:16px;background:#a0a0a0"></div><div class="a" style="left:112px;top:0;width:1px;height:16px;background:#fff"></div><div class="t" style="left:4.9px;top:1.21px;font-size:10.5px;color:#404040;font-weight:400;">H4</div><div class="t" style="left:34.3px;top:1.21px;font-size:10.5px;color:#404040;font-weight:400;">D1</div><div class="t" style="left:61.3px;top:1.21px;font-size:10.5px;color:#404040;font-weight:400;transform:scaleX(0.95);transform-origin:0 0;">W1</div><div class="t" style="left:87.6px;top:1.21px;font-size:10.5px;color:#404040;font-weight:400;transform:scaleX(0.93);transform-origin:0 0;">MN</div><svg class="a" style="left:6px;top:29px" width="8" height="5"><polygon points="0.3,4.6 7.3,4.6 3.8,0.6" fill="#000"/></svg><div class="t" style="left:17.8px;top:25.74px;font-size:10px;color:#000;font-weight:400;transform:scaleX(0.94);transform-origin:0 0;-webkit-text-stroke:0.15px #000;">EURUSD-,Daily</div><div class="t" style="left:91px;top:25.74px;font-size:10px;color:#000;font-weight:400;transform:scaleX(0.915);transform-origin:0 0;-webkit-text-stroke:0.15px #000;">1.12783 1.12814 1.12778 1.12783</div><div class="t" style="left:1423.6px;top:26.54px;font-size:10px;color:#000;font-weight:400;transform:scaleX(0.9);transform-origin:0 0;-webkit-text-stroke:0.15px #000;">1.15860</div><div class="t" style="left:1423.6px;top:59.53px;font-size:10px;color:#000;font-weight:400;transform:scaleX(0.9);transform-origin:0 0;-webkit-text-stroke:0.15px #000;">1.15550</div><div class="t" style="left:1423.6px;top:92.53px;font-size:10px;color:#000;font-weight:400;transform:scaleX(0.9);transform-origin:0 0;-webkit-text-stroke:0.15px #000;">1.15245</div><div class="t" style="left:1423.6px;top:125.53px;font-size:10px;color:#000;font-weight:400;transform:scaleX(0.9);transform-origin:0 0;-webkit-text-stroke:0.15px #000;">1.14940</div><div class="t" style="left:1423.6px;top:158.53px;font-size:10px;color:#000;font-weight:400;transform:scaleX(0.9);transform-origin:0 0;-webkit-text-stroke:0.15px #000;">1.14635</div><div class="t" style="left:1423.6px;top:191.53px;font-size:10px;color:#000;font-weight:400;transform:scaleX(0.9);transform-origin:0 0;-webkit-text-stroke:0.15px #000;">1.14330</div><div class="t" style="left:1423.6px;top:224.53px;font-size:10px;color:#000;font-weight:400;transform:scaleX(0.9);transform-origin:0 0;-webkit-text-stroke:0.15px #000;">1.14025</div><div class="t" style="left:1423.6px;top:257.54px;font-size:10px;color:#000;font-weight:400;transform:scaleX(0.9);transform-origin:0 0;-webkit-text-stroke:0.15px #000;">1.13720</div><div class="t" style="left:1423.6px;top:290.54px;font-size:10px;color:#000;font-weight:400;transform:scaleX(0.9);transform-origin:0 0;-webkit-text-stroke:0.15px #000;">1.13415</div><div class="t" style="left:1423.6px;top:323.54px;font-size:10px;color:#000;font-weight:400;transform:scaleX(0.9);transform-origin:0 0;-webkit-text-stroke:0.15px #000;">1.13110</div><div class="t" style="left:1423.6px;top:389.54px;font-size:10px;color:#000;font-weight:400;transform:scaleX(0.9);transform-origin:0 0;-webkit-text-stroke:0.15px #000;">1.12500</div><div class="t" style="left:1423.6px;top:422.54px;font-size:10px;color:#000;font-weight:400;transform:scaleX(0.9);transform-origin:0 0;-webkit-text-stroke:0.15px #000;">1.12195</div><div class="t" style="left:1423.6px;top:455.54px;font-size:10px;color:#000;font-weight:400;transform:scaleX(0.9);transform-origin:0 0;-webkit-text-stroke:0.15px #000;">1.11885</div><div class="t" style="left:1423.6px;top:488.54px;font-size:10px;color:#000;font-weight:400;transform:scaleX(0.9);transform-origin:0 0;-webkit-text-stroke:0.15px #000;">1.11580</div><div class="t" style="left:1423.6px;top:521.53px;font-size:10px;color:#000;font-weight:400;transform:scaleX(0.9);transform-origin:0 0;-webkit-text-stroke:0.15px #000;">1.11275</div><div class="t" style="left:1423.6px;top:554.53px;font-size:10px;color:#000;font-weight:400;transform:scaleX(0.9);transform-origin:0 0;-webkit-text-stroke:0.15px #000;">1.10970</div><div class="a" style="left:1420px;top:357px;width:41px;height:11px;background:#000"></div><div class="t" style="left:1423.6px;top:358.14px;font-size:10px;color:#fff;font-weight:400;transform:scaleX(0.9);transform-origin:0 0;-webkit-text-stroke:0.15px #fff;">1.12783</div><div class="t" style="left:1422.3px;top:565.74px;font-size:10px;color:#000;font-weight:400;transform:scaleX(0.9);transform-origin:0 0;-webkit-text-stroke:0.15px #000;">0.003518</div><div class="t" style="left:1422.3px;top:609.74px;font-size:10px;color:#000;font-weight:400;transform:scaleX(0.9);transform-origin:0 0;-webkit-text-stroke:0.15px #000;">0.00</div><div class="t" style="left:1421.6px;top:654.53px;font-size:10px;color:#000;font-weight:400;transform:scaleX(0.9);transform-origin:0 0;-webkit-text-stroke:0.15px #000;">-0.00367</div><div class="t" style="left:1422.3px;top:670.53px;font-size:10px;color:#000;font-weight:400;transform:scaleX(0.9);transform-origin:0 0;-webkit-text-stroke:0.15px #000;">100</div><div class="t" style="left:1420.8px;top:703.74px;font-size:10px;color:#000;font-weight:400;transform:scaleX(0.9);transform-origin:0 0;-webkit-text-stroke:0.15px #000;">70</div><div class="t" style="left:1420.8px;top:754.93px;font-size:10px;color:#000;font-weight:400;transform:scaleX(0.9);transform-origin:0 0;-webkit-text-stroke:0.15px #000;">30</div><div class="t" style="left:1421.6px;top:786.74px;font-size:10px;color:#000;font-weight:400;transform:scaleX(0.9);transform-origin:0 0;-webkit-text-stroke:0.15px #000;">0</div><div class="t" style="left:6.8px;top:568.13px;font-size:10px;color:#000;font-weight:400;transform:scaleX(0.93);transform-origin:0 0;-webkit-text-stroke:0.15px #000;">MACD(12,26,9) 0.002826 0.002261</div><div class="t" style="left:6.6px;top:672.93px;font-size:10px;color:#000;font-weight:400;transform:scaleX(0.917);transform-origin:0 0;-webkit-text-stroke:0.15px #000;">RSI(14) 56.3734</div><div class="t" style="left:1.9px;top:803.13px;font-size:10px;color:#000;font-weight:400;transform:scaleX(0.9);transform-origin:0 0;-webkit-text-stroke:0.15px #000;">2 Jan 2019</div><div class="t" style="left:65.9px;top:803.13px;font-size:10px;color:#000;font-weight:400;transform:scaleX(0.9);transform-origin:0 0;-webkit-text-stroke:0.15px #000;">11 Jan 2019</div><div class="t" style="left:129.9px;top:803.13px;font-size:10px;color:#000;font-weight:400;transform:scaleX(0.9);transform-origin:0 0;-webkit-text-stroke:0.15px #000;">21 Jan 2019</div><div class="t" style="left:193.9px;top:803.13px;font-size:10px;color:#000;font-weight:400;transform:scaleX(0.9);transform-origin:0 0;-webkit-text-stroke:0.15px #000;">30 Jan 2019</div><div class="t" style="left:257.9px;top:803.13px;font-size:10px;color:#000;font-weight:400;transform:scaleX(0.9);transform-origin:0 0;-webkit-text-stroke:0.15px #000;">8 Feb 2019</div><div class="t" style="left:321.9px;top:803.13px;font-size:10px;color:#000;font-weight:400;transform:scaleX(0.9);transform-origin:0 0;-webkit-text-stroke:0.15px #000;">18 Feb 2019</div><div class="t" style="left:385.9px;top:803.13px;font-size:10px;color:#000;font-weight:400;transform:scaleX(0.9);transform-origin:0 0;-webkit-text-stroke:0.15px #000;">27 Feb 2019</div><div class="t" style="left:449.9px;top:803.13px;font-size:10px;color:#000;font-weight:400;transform:scaleX(0.9);transform-origin:0 0;-webkit-text-stroke:0.15px #000;">8 Mar 2019</div><div class="t" style="left:513.9px;top:803.13px;font-size:10px;color:#000;font-weight:400;transform:scaleX(0.9);transform-origin:0 0;-webkit-text-stroke:0.15px #000;">18 Mar 2019</div><div class="t" style="left:577.9px;top:803.13px;font-size:10px;color:#000;font-weight:400;transform:scaleX(0.9);transform-origin:0 0;-webkit-text-stroke:0.15px #000;">27 Mar 2019</div><div class="t" style="left:641.9px;top:803.13px;font-size:10px;color:#000;font-weight:400;transform:scaleX(0.9);transform-origin:0 0;-webkit-text-stroke:0.15px #000;">5 Apr 2019</div><div class="t" style="left:705.9px;top:803.13px;font-size:10px;color:#000;font-weight:400;transform:scaleX(0.9);transform-origin:0 0;-webkit-text-stroke:0.15px #000;">15 Apr 2019</div><div class="t" style="left:769.9px;top:803.13px;font-size:10px;color:#000;font-weight:400;transform:scaleX(0.9);transform-origin:0 0;-webkit-text-stroke:0.15px #000;">25 Apr 2019</div><div class="t" style="left:833.9px;top:803.13px;font-size:10px;color:#000;font-weight:400;transform:scaleX(0.9);transform-origin:0 0;-webkit-text-stroke:0.15px #000;">5 May 2019</div><div class="t" style="left:897.9px;top:803.13px;font-size:10px;color:#000;font-weight:400;transform:scaleX(0.9);transform-origin:0 0;-webkit-text-stroke:0.15px #000;">14 May 2019</div><div class="t" style="left:961.9px;top:803.13px;font-size:10px;color:#000;font-weight:400;transform:scaleX(0.9);transform-origin:0 0;-webkit-text-stroke:0.15px #000;">23 May 2019</div><div class="t" style="left:1025.9px;top:803.13px;font-size:10px;color:#000;font-weight:400;transform:scaleX(0.9);transform-origin:0 0;-webkit-text-stroke:0.15px #000;">2 Jun 2019</div><div class="t" style="left:1089.9px;top:803.13px;font-size:10px;color:#000;font-weight:400;transform:scaleX(0.9);transform-origin:0 0;-webkit-text-stroke:0.15px #000;">11 Jun 2019</div><div class="a" style="left:0;top:819px;width:1462px;height:1px;background:#e3e3e3"></div><div class="a" style="left:0;top:820px;width:1462px;height:21px;background:#f0f0f0"></div><div class="a" style="left:0;top:821px;width:1462px;height:1px;background:#000"></div><div class="a" style="left:4px;top:820px;width:108px;height:1px;background:#fff"></div><div class="a" style="left:4px;top:821px;width:106px;height:18px;background:#fff;border-left:1px solid #000;border-right:1px solid #000;border-bottom:1px solid #000;box-shadow:1px 1px 0 #c8c8c8"></div><div class="t" style="left:15px;top:825.64px;font-size:12px;color:#000;font-weight:400;">EURUSD-,Daily</div><div class="t" style="left:122px;top:825.39px;font-size:12.3px;color:#6d6d6d;font-weight:400;">AUDUSD-,Daily</div><div class="t" style="left:231.5px;top:825.39px;font-size:12.3px;color:#6d6d6d;font-weight:400;">USDCHF-,Daily</div><div class="t" style="left:338.5px;top:825.39px;font-size:12.3px;color:#6d6d6d;font-weight:400;">USDCAD-,Daily</div><div class="t" style="left:447.5px;top:825.39px;font-size:12.3px;color:#6d6d6d;font-weight:400;">USDCNH-,Daily</div><div class="t" style="left:558.3px;top:825.39px;font-size:12.3px;color:#6d6d6d;font-weight:400;">EURCHF-,Weekly</div><div class="a" style="left:221px;top:824px;width:1px;height:14px;background:#555"></div><div class="a" style="left:327px;top:824px;width:1px;height:14px;background:#555"></div><div class="a" style="left:436px;top:824px;width:1px;height:14px;background:#555"></div><div class="a" style="left:548px;top:824px;width:1px;height:14px;background:#555"></div><div class="a" style="left:668px;top:824px;width:1px;height:14px;background:#555"></div><svg class="a" style="left:1433px;top:826px" width="5" height="8"><polygon points="4,0.6 4,7 0.6,3.8" fill="#8c8c8c"/></svg><svg class="a" style="left:1453px;top:826px" width="5" height="8"><polygon points="0,0.6 0,7 3.4,3.8" fill="#8c8c8c"/></svg><div class="a" style="left:6px;top:42px;width:52px;height:24px;background:linear-gradient(#5b5bff,#4141ee);box-shadow:inset 0 0 0 1px #2a2ad8"></div><div class="a" style="left:173px;top:42px;width:52px;height:24px;background:linear-gradient(#5b5bff,#4141ee);box-shadow:inset 0 0 0 1px #2a2ad8"></div><div class="a" style="left:6px;top:66px;width:109px;height:40px;background:linear-gradient(#3b3bea,#0000b4)"></div><div class="a" style="left:117px;top:66px;width:108px;height:40px;background:linear-gradient(#3b3bea,#0000b4)"></div><div class="a" style="left:10px;top:66px;width:44px;height:1px;background:#8a8af5"></div><div class="a" style="left:177px;top:66px;width:45px;height:1px;background:#8a8af5"></div><div class="a" style="left:60px;top:42px;width:109px;height:20px;background:#fff;border:1px solid #a9a9a9"></div><div class="a" style="left:61px;top:43px;width:20px;height:19px;background:linear-gradient(#f2f2f2 0%,#e8e8e8 45%,#d9d9d9 50%,#d4d4d4 100%);border-right:1px solid #b0b0b0"></div><div class="a" style="left:150px;top:43px;width:20px;height:19px;background:linear-gradient(#f2f2f2 0%,#e8e8e8 45%,#d9d9d9 50%,#d4d4d4 100%);border-left:1px solid #b0b0b0"></div><svg class="a" style="left:68px;top:51px" width="6" height="4"><polygon points="0,0.5 5,0.5 2.5,3.3" fill="#6478b0"/></svg><svg class="a" style="left:157px;top:51px" width="6" height="4"><polygon points="0,3.3 5,3.3 2.5,0.5" fill="#6478b0"/></svg><div class="t" style="left:122px;top:47.04px;font-size:12px;color:#000;font-weight:400;">1.00</div><div class="t" style="left:18px;top:48.69px;font-size:11px;color:#fff;font-weight:400;">SELL</div><div class="t" style="left:186px;top:48.69px;font-size:11px;color:#fff;font-weight:400;">BUY</div><div class="t" style="left:26px;top:86.64px;font-size:12px;color:#fff;font-weight:700;">1.12</div><div class="t" style="left:53.8px;top:68.44px;font-size:33.5px;color:#fff;font-weight:400;transform:scaleX(0.95);transform-origin:0 0;">78</div><div class="t" style="left:92.9px;top:71.47px;font-size:11.5px;color:#fff;font-weight:700;">3</div><div class="t" style="left:136px;top:86.64px;font-size:12px;color:#fff;font-weight:700;">1.12</div><div class="t" style="left:164.7px;top:68.44px;font-size:33.5px;color:#fff;font-weight:400;transform:scaleX(0.95);transform-origin:0 0;">79</div><div class="t" style="left:203.9px;top:71.47px;font-size:11.5px;color:#fff;font-weight:700;">9</div>
</body></html>
